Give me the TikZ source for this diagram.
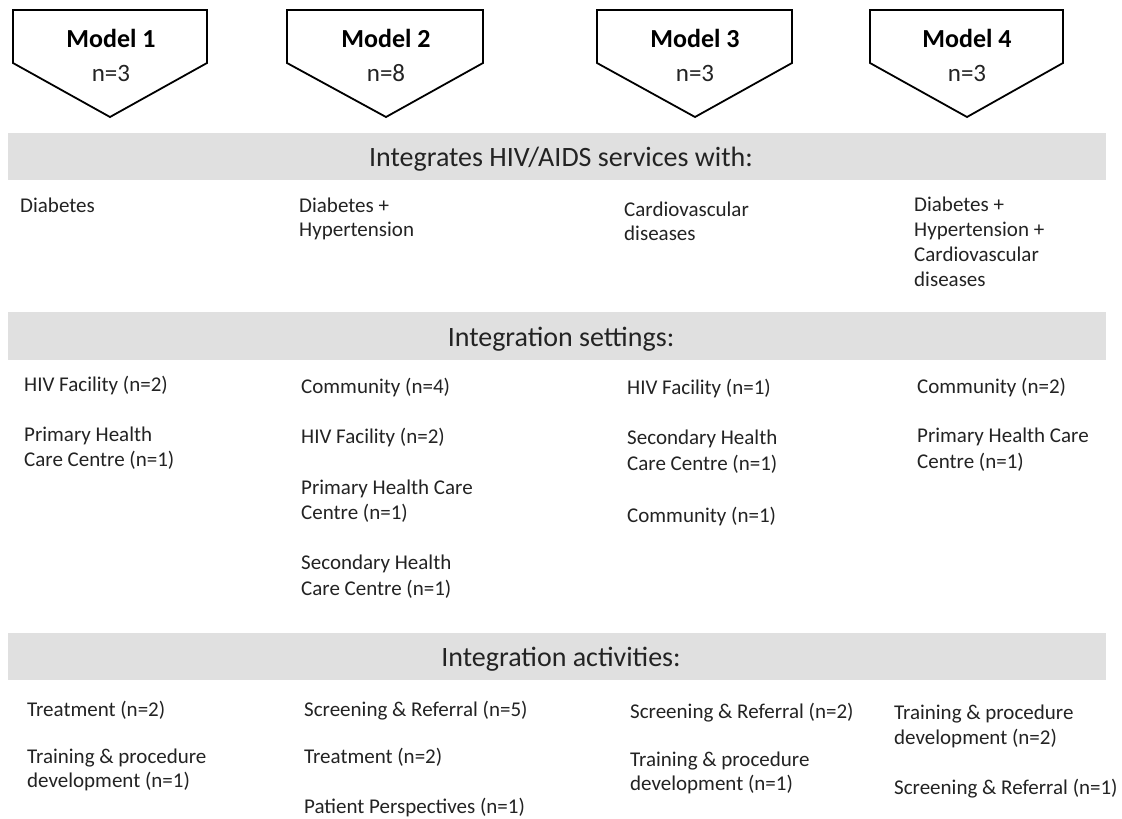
\documentclass[tikz,border=0pt]{standalone}
\usepackage{fontspec}
\setmainfont{Carlito}
\definecolor{barc}{RGB}{224,224,224}
\definecolor{textc}{RGB}{35,35,35}
\tikzset{
  modelbox/.style={draw=black, line width=1.8pt, line join=miter, fill=white},
  modeltitle/.style={anchor=base, inner sep=0pt, yshift=-8.5pt, font=\bfseries\fontsize{26}{30}\selectfont, text=black},
  modelcount/.style={anchor=base, inner sep=0pt, yshift=-8pt, font=\fontsize{25}{30}\selectfont, text=textc},
  bar/.style={fill=barc, draw=none},
  bartitle/.style={anchor=base, inner sep=0pt, yshift=-9pt, font=\fontsize{28}{32}\selectfont, text=textc},
  txt/.style={anchor=base west, inner sep=0pt, yshift=-6.5pt, font=\fontsize{21}{25}\selectfont, text=textc}
}
\begin{document}
\begin{tikzpicture}[x=1pt, y=-1pt]
\useasboundingbox[fill=white] (0,0) rectangle (1122,819);

% Model pentagons
\draw[modelbox] (13,10) -- (207,10) -- (207,63) -- (110,117) -- (13,63) -- cycle;
\draw[modelbox] (287,10) -- (483,10) -- (483,63) -- (386,117) -- (287,63) -- cycle;
\draw[modelbox] (597,10) -- (792,10) -- (792,63) -- (695,117) -- (597,63) -- cycle;
\draw[modelbox] (870,10) -- (1063,10) -- (1063,63) -- (967,117) -- (870,63) -- cycle;
\node[modeltitle] (m1) at (111,39) {Model 1};
\node[modelcount] (n1) at (111,73) {n=3};
\node[modeltitle] (m2) at (386,39) {Model 2};
\node[modelcount] (n2) at (386,73) {n=8};
\node[modeltitle] (m3) at (695,39) {Model 3};
\node[modelcount] (n3) at (695,73) {n=3};
\node[modeltitle] (m4) at (967,39) {Model 4};
\node[modelcount] (n4) at (967,73) {n=3};

% Bars
\fill[bar] (8,133) rectangle (1106,180);
\fill[bar] (8,312) rectangle (1106,360);
\fill[bar] (8,633) rectangle (1106,680);
\node[bartitle] (b1) at (561,157) {Integrates HIV/AIDS services with:};
\node[bartitle] (b2) at (561,337) {Integration settings:};
\node[bartitle] (b3) at (561,657) {Integration activities:};

% Row 1
\node[txt] (r1c1a) at (20,206) {Diabetes};
\node[txt] (r1c2a) at (299,206) {Diabetes +};
\node[txt] (r1c2b) at (299,230) {Hypertension};
\node[txt] (r1c3a) at (624,210) {Cardiovascular};
\node[txt] (r1c3b) at (624,234) {diseases};
\node[txt] (r1c4a) at (914,205) {Diabetes +};
\node[txt] (r1c4b) at (914,230) {Hypertension +};
\node[txt] (r1c4c) at (914,255) {Cardiovascular};
\node[txt] (r1c4d) at (914,280) {diseases};

% Row 2
\node[txt] (r2c1a) at (24,385) {HIV Facility (n=2)};
\node[txt] (r2c1b) at (24,435) {Primary Health};
\node[txt] (r2c1c) at (24,460) {Care Centre (n=1)};
\node[txt] (r2c2a) at (301,387) {Community (n=4)};
\node[txt] (r2c2b) at (301,437) {HIV Facility (n=2)};
\node[txt] (r2c2c) at (301,488) {Primary Health Care};
\node[txt] (r2c2d) at (301,513) {Centre (n=1)};
\node[txt] (r2c2e) at (301,563) {Secondary Health};
\node[txt] (r2c2f) at (301,589) {Care Centre (n=1)};
\node[txt] (r2c3a) at (627,388) {HIV Facility (n=1)};
\node[txt] (r2c3b) at (627,438) {Secondary Health};
\node[txt] (r2c3c) at (627,464) {Care Centre (n=1)};
\node[txt] (r2c3d) at (627,516) {Community (n=1)};
\node[txt] (r2c4a) at (917,387) {Community (n=2)};
\node[txt] (r2c4b) at (917,436) {Primary Health Care};
\node[txt] (r2c4c) at (917,462) {Centre (n=1)};

% Row 3
\node[txt] (r3c1a) at (27,710) {Treatment (n=2)};
\node[txt] (r3c1b) at (27,757) {Training \& procedure};
\node[txt] (r3c1c) at (27,781) {development (n=1)};
\node[txt] (r3c2a) at (304,710) {Screening \& Referral (n=5)};
\node[txt] (r3c2b) at (304,757) {Treatment (n=2)};
\node[txt] (r3c2c) at (304,807) {Patient Perspectives (n=1)};
\node[txt] (r3c3a) at (630,712) {Screening \& Referral (n=2)};
\node[txt] (r3c3b) at (630,760) {Training \& procedure};
\node[txt] (r3c3c) at (630,784) {development (n=1)};
\node[txt] (r3c4a) at (894,713) {Training \& procedure};
\node[txt] (r3c4b) at (894,738) {development (n=2)};
\node[txt] (r3c4c) at (894,788) {Screening \& Referral (n=1)};
\end{tikzpicture}
\end{document}
